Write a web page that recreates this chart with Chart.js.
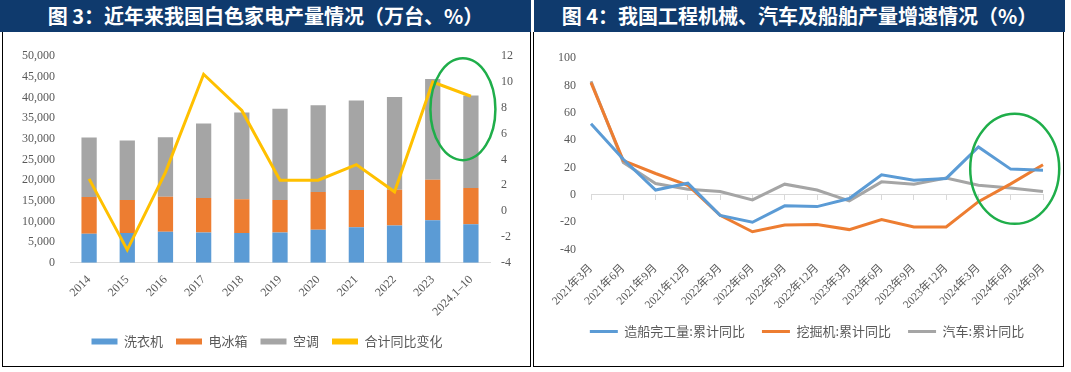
<!DOCTYPE html>
<html>
<head>
<meta charset="utf-8">
<script src="https://cdn.jsdelivr.net/npm/chart.js@4.4.0/dist/chart.umd.min.js"></script>
<style>
  html, body { margin: 0; padding: 0; background: #fff; width: 1071px; height: 372px; overflow: hidden; }
  .bar { position: absolute; top: 0; height: 32px; background: #0f3a6d; color: #fff;
         font-family: "Noto Sans CJK SC", sans-serif; font-weight: 700; font-size: 20px;
         line-height: 32px; text-align: center; white-space: nowrap; }
  .panel { position: absolute; top: 32px; height: 334px; border: 1.5px solid #000; border-top: none; box-sizing: content-box; }
  .cv { position: absolute; }
</style>
</head>
<body>
<div class="bar" style="left:0;width:531px;">图 3：近年来我国白色家电产量情况（万台、%）</div>
<div class="panel" style="left:2px;width:527px;"></div>
<div class="bar" style="left:534px;width:531px;">图 4：我国工程机械、汽车及船舶产量增速情况（%）</div>
<div class="panel" style="left:533px;width:529px;"></div>
<div class="cv" style="left:4px;top:34px;width:526px;height:332px;"><canvas id="c1"></canvas></div>
<div class="cv" style="left:533px;top:34px;width:530px;height:332px;"><canvas id="c2"></canvas></div>
<script>
// ---------- Data: chart 1 (万台, %) ----------
const years = ['2014','2015','2016','2017','2018','2019','2020','2021','2022','2023','2024.1–10'];
const washer = [7000, 7200, 7500, 7300, 7200, 7300, 8000, 8600, 9000, 10300, 9300];
const fridge = [8900, 8000, 8500, 8400, 8200, 7900, 9100, 9000, 8700, 9800, 8800];
const aircon = [14400, 14400, 14400, 18000, 21000, 22100, 21000, 21700, 22400, 24400, 22400];
const totalYoY = [2.5, -3.0, 3.0, 10.6, 7.8, 2.4, 2.4, 3.6, 1.5, 10.0, 8.9];
const leftTicks = [0, 5000, 10000, 15000, 20000, 25000, 30000, 35000, 40000, 45000, 50000];
const rightTicks = [-4, -2, 0, 2, 4, 6, 8, 10, 12];

// ---------- Data: chart 2 (%) ----------
const months = ['2021年3月','2021年6月','2021年9月','2021年12月','2022年3月','2022年6月','2022年9月','2022年12月',
                '2023年3月','2023年6月','2023年9月','2023年12月','2024年3月','2024年6月','2024年9月'];
const shipYoY = [52, 26, 3.5, 8.5, -15, -20, -8, -8.6, -2.7, 14.6, 10.7, 12, 35, 18.8, 18];
const excavYoY = [82, 25, 15.6, 7, -15, -27, -22, -21.7, -25.4, -18, -23.5, -23.5, -5, 8, 22];
const autoYoY = [83, 23.7, 8.3, 4.1, 2.4, -3.7, 7.8, 3.5, -4.4, 9.5, 7.8, 12.2, 7, 5, 2.4];
const pctTicks = [-40, -20, 0, 20, 40, 60, 80, 100];

const BLUE = '#5b9bd5', ORANGE = '#ed7d31', GRAY = '#a5a5a5', YELLOW = '#ffc000', GREEN = '#1fae4a';
const TXT = '#595959';
const SERIF = '"Liberation Serif", "Noto Sans CJK SC", serif';
const SANS = '"Noto Sans CJK SC", "Noto Sans", sans-serif';

// Green highlight ellipse, positioned via the chart's own scales
const ringPlugin = {
  id: 'ring',
  afterDatasetsDraw(chart, args, opts) {
    if (!opts || opts.xValue === undefined) return;
    const x = chart.scales[opts.xScale].getPixelForValue(opts.xValue);
    const y = chart.scales[opts.yScale].getPixelForValue(opts.yValue);
    const ctx = chart.ctx;
    ctx.save();
    ctx.beginPath();
    ctx.ellipse(x + opts.dx, y, opts.rx, opts.ry, 0, 0, Math.PI * 2);
    ctx.strokeStyle = GREEN;
    ctx.lineWidth = 2.5;
    ctx.stroke();
    ctx.restore();
  }
};

function legendLabels(chart) {
  const items = Chart.defaults.plugins.legend.labels.generateLabels(chart);
  items.forEach(it => {
    it.lineWidth = 0;
    if (chart.data.datasets[it.datasetIndex].type === 'line') it.fillStyle = it.strokeStyle;
  });
  return items.sort((a, b) => a.datasetIndex - b.datasetIndex);
}

new Chart(document.getElementById('c1'), {
  data: {
    labels: years,
    datasets: [
      { type: 'bar', label: '洗衣机', data: washer, backgroundColor: BLUE, yAxisID: 'y', stack: 's', barPercentage: 0.4, categoryPercentage: 1, order: 2 },
      { type: 'bar', label: '电冰箱', data: fridge, backgroundColor: ORANGE, yAxisID: 'y', stack: 's', barPercentage: 0.4, categoryPercentage: 1, order: 2 },
      { type: 'bar', label: '空调', data: aircon, backgroundColor: GRAY, yAxisID: 'y', stack: 's', barPercentage: 0.4, categoryPercentage: 1, order: 2 },
      { type: 'line', label: '合计同比变化', data: totalYoY, borderColor: YELLOW, backgroundColor: YELLOW, borderWidth: 3, pointRadius: 0, tension: 0, yAxisID: 'y1', order: 1 }
    ]
  },
  options: {
    responsive: true, maintainAspectRatio: false, animation: false,
    layout: { padding: { top: 20, bottom: 8, left: 0, right: 0 } },
    scales: {
      x: {
        stacked: true,
        afterFit: s => { s.height = s.height + 1; },
        grid: { display: false },
        border: { color: '#d9d9d9', width: 1 },
        ticks: { color: TXT, font: { family: SERIF, size: 12 }, minRotation: 45, maxRotation: 45, padding: 2, autoSkip: false }
      },
      y: {
        stacked: true, position: 'left', min: 0, max: 50000,
        afterBuildTicks: s => { s.ticks = leftTicks.map(v => ({ value: v })); },
        afterFit: s => { s.width = 66; },
        grid: { display: false, drawTicks: false }, border: { display: false },
        ticks: { color: TXT, font: { family: SERIF, size: 12 }, padding: 15,
                 callback: v => v.toLocaleString('en-US') }
      },
      y1: {
        position: 'right', min: -4, max: 12,
        afterBuildTicks: s => { s.ticks = rightTicks.map(v => ({ value: v })); },
        afterFit: s => { s.width = 40; },
        grid: { display: false, drawTicks: false }, border: { display: false },
        ticks: { color: TXT, font: { family: SERIF, size: 12 }, padding: 11 }
      }
    },
    plugins: {
      legend: {
        position: 'bottom',
        labels: { color: TXT, font: { family: SANS, size: 13 }, boxWidth: 26, boxHeight: 6, padding: 13, generateLabels: legendLabels }
      },
      tooltip: { enabled: false },
      ring: { xScale: 'x', xValue: 10, dx: -8, yScale: 'y1', yValue: 7.9, rx: 32.5, ry: 51 }
    }
  },
  plugins: [ringPlugin]
});

new Chart(document.getElementById('c2'), {
  type: 'line',
  data: {
    labels: months,
    datasets: [
      { label: '造船完工量:累计同比', data: shipYoY, borderColor: BLUE, backgroundColor: BLUE },
      { label: '挖掘机:累计同比', data: excavYoY, borderColor: ORANGE, backgroundColor: ORANGE },
      { label: '汽车:累计同比', data: autoYoY, borderColor: GRAY, backgroundColor: GRAY }
    ].map(d => Object.assign(d, { type: 'line', borderWidth: 3, pointRadius: 0, tension: 0, xAxisID: 'x', yAxisID: 'y' }))
  },
  options: {
    responsive: true, maintainAspectRatio: false, animation: false,
    layout: { padding: { top: 24, bottom: 18, left: 23, right: 5 } },
    scales: {
      x: {
        type: 'category', labels: months, position: { y: 0 }, offset: false,
        grid: { display: true, drawOnChartArea: false, drawTicks: true, tickLength: 5, color: '#d9d9d9' },
        border: { color: '#d9d9d9', width: 1 },
        ticks: { display: false }
      },
      x2: {
        type: 'category', labels: months, position: 'bottom', offset: false,
        afterFit: s => { s.height = s.height - 8; },
        grid: { display: false }, border: { display: false },
        ticks: { color: TXT, font: { family: SERIF, size: 11.5 }, minRotation: 45, maxRotation: 45, padding: 4, autoSkip: false }
      },
      y: {
        min: -40, max: 100,
        afterBuildTicks: s => { s.ticks = pctTicks.map(v => ({ value: v })); },
        afterFit: s => { s.width = 35; },
        grid: { display: false, drawTicks: false }, border: { display: false },
        ticks: { color: TXT, font: { family: SERIF, size: 12 }, padding: 15 }
      },
      yPad: {
        type: 'linear', position: 'right', display: true,
        afterFit: s => { s.width = 15; },
        grid: { display: false, drawTicks: false }, border: { display: false },
        ticks: { display: false }
      }
    },
    plugins: {
      legend: {
        position: 'bottom',
        labels: { color: TXT, font: { family: SANS, size: 13 }, boxWidth: 28, boxHeight: 3, padding: 17, generateLabels: legendLabels }
      },
      tooltip: { enabled: false },
      ring: { xScale: 'x', xValue: 13, dx: 4, yScale: 'y', yValue: 19, rx: 44.5, ry: 55 }
    }
  },
  plugins: [ringPlugin]
});
</script>
</body>
</html>
